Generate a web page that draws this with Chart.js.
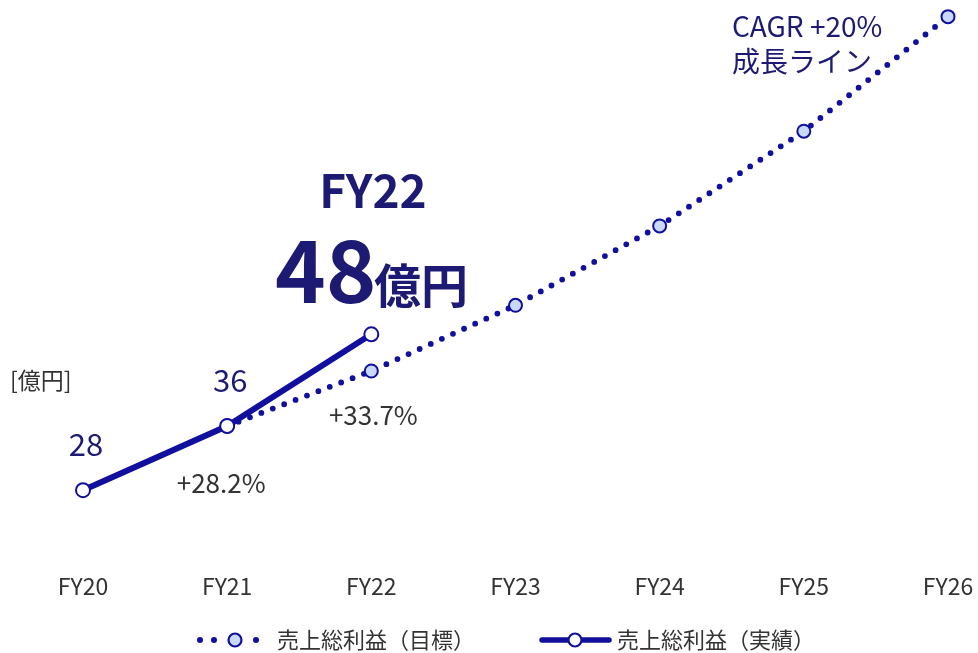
<!DOCTYPE html>
<html>
<head>
<meta charset="utf-8">
<script src="https://cdn.jsdelivr.net/npm/chart.js@4"></script>
<style>
  html, body { margin: 0; padding: 0; background: #fff; }
  #wrap { width: 978px; height: 653px; position: relative; }
</style>
</head>
<body>
<div id="wrap"><canvas id="chart" width="978" height="653"></canvas></div>
<script>
const years = ["FY20", "FY21", "FY22", "FY23", "FY24", "FY25", "FY26"];
const actual = [27.6, 36, 48, null, null, null, null];
const target = [null, 36, 43.2, 51.8, 62.2, 74.6, 89.6];
const growthLabels = ["+28.2%", "+33.7%"];
const valueLabels = ["28", "36"];

const FONT = "'Noto Sans CJK JP', 'Noto Sans', sans-serif";
const NAVY = "#1c1a72";
const LINE = "#11109e";
const LIGHT = "#c9d9fb";

// text annotations + custom legend
const annotations = {
  id: "annotations",
  afterDraw(chart) {
    const ctx = chart.ctx;
    const x = chart.scales.x, y = chart.scales.y;
    ctx.save();
    ctx.textBaseline = "middle";

    // unit
    ctx.fillStyle = "#333";
    ctx.font = "23px " + FONT;
    ctx.textAlign = "left";
    ctx.fillText("[億円]", 10, 380);

    // value labels
    ctx.fillStyle = NAVY;
    ctx.font = "31px " + FONT;
    ctx.textAlign = "center";
    ctx.fillText(valueLabels[0], x.getPixelForValue(0) + 3, y.getPixelForValue(actual[0]) - 46);
    ctx.fillText(valueLabels[1], x.getPixelForValue(1) + 3, y.getPixelForValue(actual[1]) - 46);

    // growth labels
    ctx.fillStyle = "#333";
    ctx.font = "26px " + FONT;
    ctx.fillText(growthLabels[0], x.getPixelForValue(1) - 6, 483);
    ctx.fillText(growthLabels[1], x.getPixelForValue(2) + 2, 415);

    // headline
    ctx.fillStyle = NAVY;
    ctx.font = "bold 46px " + FONT;
    ctx.fillText("FY22", 373, 191);
    ctx.textAlign = "left";
    ctx.textBaseline = "alphabetic";
    ctx.font = "bold 86px " + FONT;
    ctx.fillText("48", 275, 303);
    ctx.font = "bold 47px " + FONT;
    ctx.fillText("億円", 374, 303);

    // CAGR
    ctx.textBaseline = "middle";
    ctx.font = "28px " + FONT;
    ctx.fillText("CAGR +20%", 732, 26);
    ctx.fillText("成長ライン", 732, 61);

    // legend
    const ly = 640;
    ctx.fillStyle = LINE;
    [200, 214, 256].forEach(px => {
      ctx.beginPath(); ctx.arc(px, ly, 3, 0, Math.PI * 2); ctx.fill();
    });
    ctx.beginPath(); ctx.arc(235, ly, 6.5, 0, Math.PI * 2);
    ctx.fillStyle = LIGHT; ctx.fill();
    ctx.lineWidth = 2.2; ctx.strokeStyle = LINE; ctx.stroke();

    ctx.beginPath(); ctx.moveTo(542, ly); ctx.lineTo(609, ly);
    ctx.lineWidth = 5.5; ctx.lineCap = "round"; ctx.strokeStyle = LINE; ctx.stroke();
    ctx.beginPath(); ctx.arc(575, ly, 6.5, 0, Math.PI * 2);
    ctx.fillStyle = "#fff"; ctx.fill();
    ctx.lineWidth = 2.2; ctx.stroke();

    ctx.fillStyle = "#333";
    ctx.font = "22px " + FONT;
    ctx.textAlign = "left";
    ctx.fillText("売上総利益（目標）", 277, ly);
    ctx.fillText("売上総利益（実績）", 617, ly);
    ctx.restore();
  }
};

new Chart(document.getElementById("chart"), {
  type: "line",
  data: {
    labels: years,
    datasets: [
      {
        label: "売上総利益（実績）",
        data: actual,
        borderColor: LINE,
        borderWidth: 6,
        pointRadius: 7,
        pointBorderWidth: 2,
        pointBackgroundColor: "#fff",
        pointBorderColor: LINE,
        tension: 0,
        spanGaps: false
      },
      {
        label: "売上総利益（目標）",
        data: target,
        borderColor: LINE,
        borderWidth: 5.8,
        borderDash: [0, 12.2],
        borderCapStyle: "round",
        pointRadius: 6.5,
        pointBorderWidth: 2,
        pointBackgroundColor: LIGHT,
        pointBorderColor: LINE,
        tension: 0
      }
    ]
  },
  options: {
    responsive: false,
    animation: false,
    layout: { padding: { left: 83, right: 30, top: 5, bottom: 41 } },
    plugins: { legend: { display: false }, tooltip: { enabled: false } },
    scales: {
      x: {
        offset: false,
        grid: { display: false, drawTicks: false },
        border: { display: false },
        ticks: { color: "#333", font: { family: FONT, size: 23 }, padding: 12, maxRotation: 0 },
        // let the last label hang past the plot edge like the original
        afterFit(scale) { scale.paddingLeft = 0; scale.paddingRight = 0; }
      },
      y: {
        display: false,
        min: 18.4,
        max: 90.6
      }
    }
  },
  plugins: [annotations]
});
</script>
</body>
</html>
